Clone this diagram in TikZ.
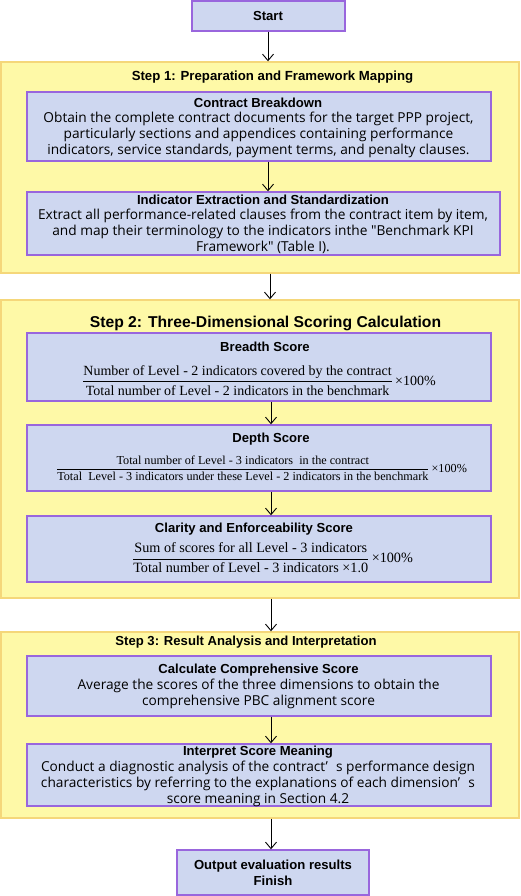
\documentclass[tikz,border=0pt]{standalone}
\usepackage{fontspec}
\setmainfont{Liberation Serif}
\setsansfont{Liberation Sans}
\newfontfamily\bodyfont{Open Sans}
\usetikzlibrary{arrows.meta}
\definecolor{boxfill}{HTML}{CED7F0}
\definecolor{boxline}{HTML}{9966DD}
\definecolor{contfill}{HTML}{FEF9A7}
\definecolor{contline}{HTML}{F5D77A}
\newcommand{\myfrac}[2]{$\displaystyle\frac{\mbox{#1}}{\mbox{#2}}$}
\tikzset{
  x=1pt,y=-1pt,
  bluebox/.style={draw=boxline,fill=boxfill,line width=1.4pt,inner sep=0pt},
  contbox/.style={draw=contline,fill=contfill,line width=1.4pt,inner sep=0pt},
  arr/.style={draw=black,line width=0.9pt,-{Straight Barb[length=6.5pt,width=11pt,line width=0.9pt]}},
  steptitle/.style={font=\sffamily\bfseries\fontsize{13.2}{15}\selectfont,inner sep=0pt},
  boxtitle/.style={font=\sffamily\bfseries\fontsize{13.1}{15}\selectfont,inner sep=0pt},
  body/.style={font=\bodyfont\fontsize{13.7}{15.9}\selectfont,align=center,inner sep=0pt},
  fracnode/.style={inner sep=0pt},
}
\begin{document}
\begin{tikzpicture}
\useasboundingbox (0,0) rectangle (520,896);
% containers
\node[contbox,minimum width=518,minimum height=211] (s1) at (260,167.5) {};
\node[contbox,minimum width=518,minimum height=298] (s2) at (260,449) {};
\node[contbox,minimum width=518,minimum height=186] (s3) at (260,725) {};
% boxes
\node[bluebox,minimum width=153,minimum height=30] (start) at (268.5,16) {};
\node[bluebox,minimum width=464,minimum height=69] (cb) at (259,126.5) {};
\node[bluebox,minimum width=473,minimum height=63] (ie) at (263.5,223.5) {};
\node[bluebox,minimum width=464,minimum height=68] (br) at (259,367) {};
\node[bluebox,minimum width=464,minimum height=66] (dp) at (259,458) {};
\node[bluebox,minimum width=464,minimum height=66] (cl) at (259,549) {};
\node[bluebox,minimum width=464,minimum height=60] (cc) at (259,686) {};
\node[bluebox,minimum width=464,minimum height=62] (ip) at (259,775) {};
\node[bluebox,minimum width=192,minimum height=45] (out) at (273,872.5) {};
% texts
\node[boxtitle] (tstart) at (268,16) {Start};
\node[steptitle] (t1) at (272.5,77) {Step 1: Preparation and Framework Mapping};
\node[boxtitle] (tcb) at (258,103) {Contract Breakdown};
\node[body] (bcb) at (258.5,135) {Obtain the complete contract documents for the target PPP project,\\particularly sections and appendices containing performance\\indicators, service standards, payment terms, and penalty clauses.};
\node[boxtitle] (tie) at (263,200) {Indicator Extraction and Standardization};
\node[body] (bie) at (263,231.5) {Extract all performance-related clauses from the contract item by item,\\and map their terminology to the indicators inthe "Benchmark KPI\\Framework" (Table I).};
\node[steptitle,font=\sffamily\bfseries\fontsize{15.7}{18}\selectfont] (t2) at (265.5,323) {Step 2: Three-Dimensional Scoring Calculation};
\node[boxtitle] (tbr) at (265,347) {Breadth Score};
\node[fracnode,font=\fontsize{14}{16}\selectfont] (fbr) at (259,380.5) {\myfrac{Number of Level - 2 indicators covered by the contract}{Total number of Level - 2 indicators in the benchmark}\,×100\%};
\node[boxtitle] (tdp) at (271,439) {Depth Score};
\node[fracnode,font=\fontsize{12.2}{14}\selectfont] (fdp) at (261.5,468) {\myfrac{Total number of Level - 3 indicators\ \ in the contract}{Total\ \ Level - 3 indicators under these Level - 2 indicators in the benchmark}\,×100\%};
\node[boxtitle] (tcl) at (254,529) {Clarity and Enforceability Score};
\node[fracnode,font=\fontsize{14.2}{16}\selectfont] (fcl) at (272.5,557.5) {\myfrac{Sum of scores for all Level - 3 indicators}{Total number of Level - 3 indicators ×1.0}\,×100\%};
\node[steptitle,font=\sffamily\bfseries\fontsize{13.1}{15}\selectfont] (t3) at (246,642) {Step 3: Result Analysis and Interpretation};
\node[boxtitle] (tcc) at (258.5,670) {Calculate Comprehensive Score};
\node[body] (bcc) at (258.5,694) {Average the scores of the three dimensions to obtain the\\comprehensive PBC alignment score};
\node[boxtitle] (tip) at (258,752) {Interpret Score Meaning};
\node[body] (bip) at (258,783.5) {Conduct a diagnostic analysis of the contract’\hspace{0.6em}s performance design\\characteristics by referring to the explanations of each dimension’\hspace{0.6em}s\\score meaning in Section 4.2};
\node[boxtitle,align=center,font=\sffamily\bfseries\fontsize{13.1}{16}\selectfont] (tout) at (273,873) {Output evaluation results\\Finish};
% arrow columns
\coordinate (c1) at (268,0);
\coordinate (c2) at (270,0);
\coordinate (c3) at (271,0);
\draw[arr] (start.south -| c1) -- (s1.north -| c1);
\draw[arr] (cb.south -| c1) -- (ie.north -| c1);
\draw[arr] (s1.south -| c2) -- (s2.north -| c2);
\draw[arr] (br.south -| c3) -- (dp.north -| c3);
\draw[arr] (dp.south -| c3) -- (cl.north -| c3);
\draw[arr] (s2.south -| c3) -- (s3.north -| c3);
\draw[arr] (cc.south -| c3) -- (ip.north -| c3);
\draw[arr] (s3.south -| c3) -- (out.north -| c3);
\end{tikzpicture}
\end{document}
